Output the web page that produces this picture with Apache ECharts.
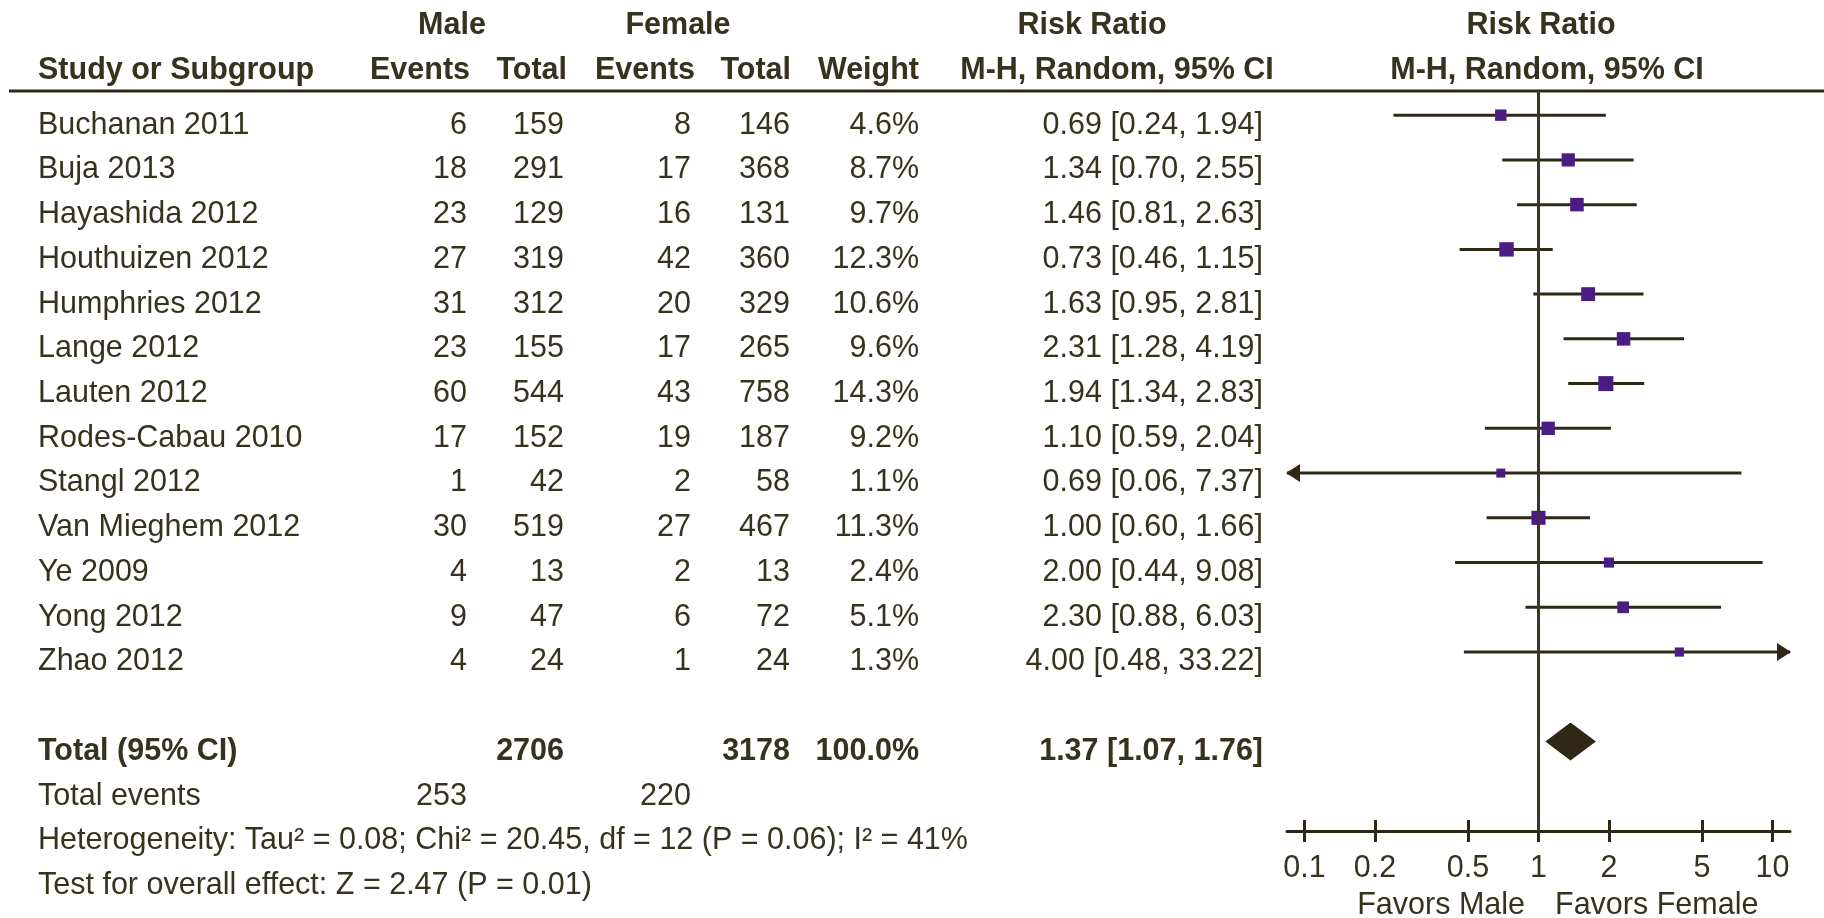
<!DOCTYPE html>
<html>
<head>
<meta charset="utf-8">
<script src="https://cdn.jsdelivr.net/npm/echarts@6/dist/echarts.min.js"></script>
<style>
  html, body { margin: 0; padding: 0; background: #ffffff; }
  #chart { width: 1824px; height: 918px; }
</style>
</head>
<body>
<div id="chart"></div>
<script>
// ---- Study data (sex differences, risk ratio, random effects) ----
const studies = ['Buchanan 2011', 'Buja 2013', 'Hayashida 2012', 'Houthuizen 2012', 'Humphries 2012',
  'Lange 2012', 'Lauten 2012', 'Rodes-Cabau 2010', 'Stangl 2012', 'Van Mieghem 2012',
  'Ye 2009', 'Yong 2012', 'Zhao 2012'];
const maleEvents   = [6, 18, 23, 27, 31, 23, 60, 17, 1, 30, 4, 9, 4];
const maleTotal    = [159, 291, 129, 319, 312, 155, 544, 152, 42, 519, 13, 47, 24];
const femaleEvents = [8, 17, 16, 42, 20, 17, 43, 19, 2, 27, 2, 6, 1];
const femaleTotal  = [146, 368, 131, 360, 329, 265, 758, 187, 58, 467, 13, 72, 24];
const weights      = [4.6, 8.7, 9.7, 12.3, 10.6, 9.6, 14.3, 9.2, 1.1, 11.3, 2.4, 5.1, 1.3];
const riskRatio    = [0.69, 1.34, 1.46, 0.73, 1.63, 2.31, 1.94, 1.10, 0.69, 1.00, 2.00, 2.30, 4.00];
const ciLower      = [0.24, 0.70, 0.81, 0.46, 0.95, 1.28, 1.34, 0.59, 0.06, 0.60, 0.44, 0.88, 0.48];
const ciUpper      = [1.94, 2.55, 2.63, 1.15, 2.81, 4.19, 2.83, 2.04, 7.37, 1.66, 9.08, 6.03, 33.22];

// Pooled estimate and totals
const pooledRR = 1.37, pooledLower = 1.07, pooledUpper = 1.76;
const totalMale = 2706, totalFemale = 3178, totalWeight = 100.0;
const totalMaleEvents = 253, totalFemaleEvents = 220;
const tau2 = 0.08, chi2 = 20.45, dfHet = 12, pHet = 0.06, i2 = 41;
const zValue = 2.47, pOverall = 0.01;

// Axis ticks (ratio scale)
const tickValues = [0.1, 0.2, 0.5, 1, 2, 5, 10];
const tickLabels = ['0.1', '0.2', '0.5', '1', '2', '5', '10'];

// ---- Styling / layout ----
const FONT = '"Liberation Sans", Arial, Helvetica, sans-serif';
const FS = 30.5;
const TEXT = '#37321f';
const LINE = '#2f2817';
const PURPLE = '#4b1c84';
const X_MIN = -1.075, X_MAX = 1.075;     // log10 extent of the plot axis
const TEXT_DY = 10;                      // table text sits slightly below the marks
const log10 = v => Math.log10(v);

const COL = { name: 38, mEv: 467, mTot: 564, fEv: 691, fTot: 790, wt: 919, rr: 1263 };

const ciText = (r, l, u) => r.toFixed(2) + ' [' + l.toFixed(2) + ', ' + u.toFixed(2) + ']';

// Table rows: index = row position on the y scale
const tableRows = [];
studies.forEach((s, i) => {
  tableRows.push({ row: i, cells: [
    { t: s, x: COL.name, a: 'left' },
    { t: String(maleEvents[i]), x: COL.mEv, a: 'right' },
    { t: String(maleTotal[i]), x: COL.mTot, a: 'right' },
    { t: String(femaleEvents[i]), x: COL.fEv, a: 'right' },
    { t: String(femaleTotal[i]), x: COL.fTot, a: 'right' },
    { t: weights[i].toFixed(1) + '%', x: COL.wt, a: 'right' },
    { t: ciText(riskRatio[i], ciLower[i], ciUpper[i]), x: COL.rr, a: 'right' }
  ]});
});
const ROW_TOTAL = studies.length + 1;
tableRows.push({ row: ROW_TOTAL, cells: [
  { t: 'Total (95% CI)', x: COL.name, a: 'left', b: true },
  { t: String(totalMale), x: COL.mTot, a: 'right', b: true },
  { t: String(totalFemale), x: COL.fTot, a: 'right', b: true },
  { t: totalWeight.toFixed(1) + '%', x: COL.wt, a: 'right', b: true },
  { t: ciText(pooledRR, pooledLower, pooledUpper), x: COL.rr, a: 'right', b: true }
]});
tableRows.push({ row: ROW_TOTAL + 1, cells: [
  { t: 'Total events', x: COL.name, a: 'left' },
  { t: String(totalMaleEvents), x: COL.mEv, a: 'right' },
  { t: String(totalFemaleEvents), x: COL.fEv, a: 'right' }
]});
tableRows.push({ row: ROW_TOTAL + 2, cells: [
  { t: 'Heterogeneity: Tau\u00B2 = ' + tau2.toFixed(2) + '; Chi\u00B2 = ' + chi2.toFixed(2) + ', df = ' + dfHet +
       ' (P = ' + pHet.toFixed(2) + '); I\u00B2 = ' + i2 + '%', x: COL.name, a: 'left' }
]});
tableRows.push({ row: ROW_TOTAL + 3, cells: [
  { t: 'Test for overall effect: Z = ' + zValue.toFixed(2) + ' (P = ' + pOverall.toFixed(2) + ')', x: COL.name, a: 'left' }
]});

function txt(text, x, y, align, bold, color) {
  return {
    type: 'text', x: x, y: y, silent: true,
    style: {
      text: text, font: (bold ? 'bold ' : '') + FS + 'px ' + FONT, fill: color || TEXT,
      align: align, verticalAlign: 'middle', textAlign: align, textVerticalAlign: 'middle'
    }
  };
}

function renderTable(params, api) {
  const rowInfo = tableRows[params.dataIndex];
  const y = api.coord([0, api.value(1)])[1] + TEXT_DY;
  return { type: 'group', children: rowInfo.cells.map(c => txt(c.t, c.x, y, c.a, c.b)) };
}

function renderStudy(params, api) {
  const rr = api.value(0), row = api.value(1), lo = api.value(2), hi = api.value(3), w = api.value(4);
  const y = api.coord([0, row])[1];
  const xl = api.coord([Math.max(lo, X_MIN), row])[0];
  const xh = api.coord([Math.min(hi, X_MAX), row])[0];
  const xc = api.coord([rr, row])[0];
  const children = [{
    type: 'line', shape: { x1: xl, y1: y, x2: xh, y2: y },
    style: { stroke: LINE, lineWidth: 3 }
  }];
  if (lo < X_MIN) {
    children.push({ type: 'polygon', shape: { points: [[xl - 1, y], [xl + 13, y - 9], [xl + 13, y + 9]] }, style: { fill: LINE } });
  }
  if (hi > X_MAX) {
    children.push({ type: 'polygon', shape: { points: [[xh + 1, y], [xh - 13, y - 9], [xh - 13, y + 9]] }, style: { fill: LINE } });
  }
  const s = 6.7 + 2.2 * Math.sqrt(w);
  children.push({ type: 'rect', shape: { x: xc - s / 2, y: y - s / 2, width: s, height: s }, style: { fill: PURPLE } });
  return { type: 'group', children: children };
}

function renderPooled(params, api) {
  const row = api.value(1);
  const y = api.coord([0, row])[1];
  const xc = api.coord([api.value(0), row])[0];
  const xl = api.coord([api.value(2), row])[0];
  const xh = api.coord([api.value(3), row])[0];
  const h = 19;
  return {
    type: 'polygon',
    shape: { points: [[xl, y], [xc, y - h], [xh, y], [xc, y + h]] },
    style: { fill: LINE }
  };
}

const studyData = studies.map((s, i) => [log10(riskRatio[i]), i, log10(ciLower[i]), log10(ciUpper[i]), weights[i]]);
const pooledData = [[log10(pooledRR), ROW_TOTAL, log10(pooledLower), log10(pooledUpper)]];
const tableData = tableRows.map(r => [0, r.row]);
const tickLogs = tickValues.map(log10);

function tickFormatter(v) {
  for (let k = 0; k < tickLogs.length; k++) {
    if (Math.abs(tickLogs[k] - v) < 1e-6) return tickLabels[k];
  }
  return '';
}

const headerY1 = 26, headerY2 = 71;
const graphics = [
  txt('Male', 452, headerY1, 'center', true),
  txt('Female', 678, headerY1, 'center', true),
  txt('Risk Ratio', 1092, headerY1, 'center', true),
  txt('Risk Ratio', 1541, headerY1, 'center', true),
  txt('Study or Subgroup', 38, headerY2, 'left', true),
  txt('Events', 470, headerY2, 'right', true),
  txt('Total', 567, headerY2, 'right', true),
  txt('Events', 695, headerY2, 'right', true),
  txt('Total', 791, headerY2, 'right', true),
  txt('Weight', 919, headerY2, 'right', true),
  txt('M-H, Random, 95% CI', 1117, headerY2, 'center', true),
  txt('M-H, Random, 95% CI', 1547, headerY2, 'center', true),
  {
    type: 'line', silent: true,
    shape: { x1: 9, y1: 91, x2: 1824, y2: 91 },
    style: { stroke: LINE, lineWidth: 3 }
  },
  txt('Favors Male', 1525, 906, 'right', false),
  txt('Favors Female', 1555, 906, 'left', false)
];

const chart = echarts.init(document.getElementById('chart'), null, { renderer: 'canvas' });
chart.setOption({
  backgroundColor: '#ffffff',
  animation: false,
  grid: { left: 1287, right: 34, top: 91, bottom: 87, containLabel: false },
  xAxis: [{
    type: 'value', min: X_MIN, max: X_MAX, position: 'bottom', offset: 0,
    splitLine: { show: false },
    axisLine: { show: true, onZero: false, lineStyle: { color: LINE, width: 3 } },
    axisTick: { show: true, customValues: tickLogs, length: 11, inside: false, lineStyle: { color: LINE, width: 3 } },
    axisLabel: { show: true, customValues: tickLogs, formatter: tickFormatter, margin: 22,
      fontSize: FS, fontFamily: FONT, color: TEXT }
  }, {
    type: 'value', min: X_MIN, max: X_MAX, position: 'bottom', gridIndex: 0, offset: 0,
    splitLine: { show: false },
    axisLine: { show: false, onZero: false },
    axisTick: { show: true, customValues: tickLogs, length: 11, inside: true, lineStyle: { color: LINE, width: 3 } },
    axisLabel: { show: false }
  }],
  yAxis: { type: 'value', inverse: true, min: -0.54, max: 16, show: false },
  graphic: { elements: graphics },
  series: [{
    type: 'custom', name: 'studies', silent: true, clip: false,
    renderItem: renderStudy, data: studyData,
    encode: { x: 0, y: 1 },
    markLine: {
      silent: true, symbol: ['none', 'none'], label: { show: false },
      lineStyle: { color: '#3a3728', width: 3, type: 'solid' },
      data: [{ xAxis: 0 }]
    }
  }, {
    type: 'custom', name: 'pooled', silent: true, clip: false,
    renderItem: renderPooled, data: pooledData, encode: { x: 0, y: 1 }
  }, {
    type: 'custom', name: 'table', silent: true, clip: false,
    renderItem: renderTable, data: tableData, encode: { x: 0, y: 1 }
  }]
});
</script>
</body>
</html>
